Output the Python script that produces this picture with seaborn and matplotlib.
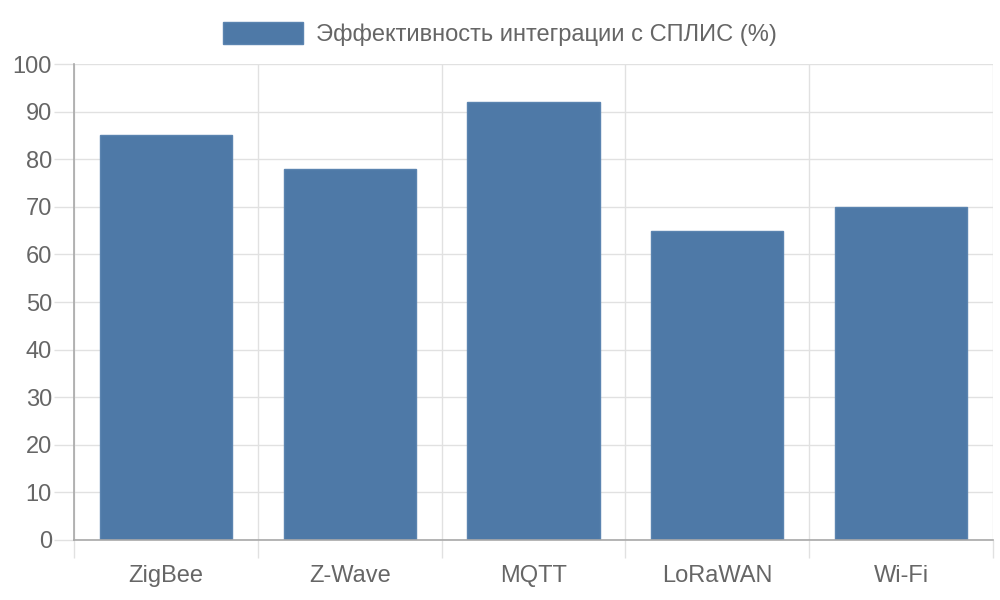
import matplotlib
matplotlib.use("Agg")
import matplotlib.pyplot as plt
import seaborn as sns
import pandas as pd
import numpy as np
from matplotlib.patches import Patch

categories = ["ZigBee", "Z-Wave", "MQTT", "LoRaWAN", "Wi-Fi"]
values = [85, 78, 92, 65, 70]
series_label = "Эффективность интеграции с СПЛИС (%)"
y_ticks = [0, 10, 20, 30, 40, 50, 60, 70, 80, 90, 100]

sns.set_theme(style="white")
plt.rcParams['font.family'] = ['Liberation Sans', 'DejaVu Sans']

df = pd.DataFrame({"cat": categories, "val": values})

fig = plt.figure(figsize=(10, 6), dpi=100)
ax = fig.add_axes([0.074, 0.1, 0.919, 0.7933])

bar_color = "#4e79a7"
sns.barplot(data=df, x="cat", y="val", color=bar_color, width=0.72, ax=ax,
            saturation=1, edgecolor="#5b84b0", linewidth=1, label=series_label)

text_color = "#666666"
grid_color = "#e1e1e1"
axis_color = "#a8a8a8"
fs = 17

ax.set_ylim(0, 100)
ax.set_xlim(-0.5, len(categories) - 0.5)
ax.set_yticks(y_ticks)
ax.set_xticks(range(len(categories)))
ax.set_xticklabels(categories)
ax.set_xticks(np.arange(-0.5, len(categories), 1.0), minor=True)
ax.set_xlabel("")
ax.set_ylabel("")

ax.set_axisbelow(True)
ax.yaxis.grid(True, color=grid_color, linewidth=1)
ax.xaxis.grid(True, which="minor", color=grid_color, linewidth=1)
ax.xaxis.grid(False, which="major")

for s in ["top", "right"]:
    ax.spines[s].set_visible(False)
ax.spines["left"].set_color(axis_color)
ax.spines["bottom"].set_color(axis_color)
ax.spines["left"].set_linewidth(1.2)
ax.spines["bottom"].set_linewidth(1.2)

ax.tick_params(axis="y", which="major", length=14.4, width=1, color=grid_color,
               labelsize=fs, labelcolor=text_color, pad=1.5, left=True)
ax.tick_params(axis="x", which="major", length=0, labelsize=fs, labelcolor=text_color, pad=18)
ax.tick_params(axis="x", which="minor", length=13, width=1, color=grid_color, bottom=True)

leg = ax.get_legend()
if leg is not None:
    leg.remove()
h = [Patch(facecolor=bar_color, edgecolor="#5b84b0")]
fig.legend(h, [series_label], loc="upper center", bbox_to_anchor=(0.5, 0.998),
           frameon=False, fontsize=fs, handlelength=3.4, handleheight=1.0,
           handletextpad=0.55, labelcolor=text_color)

fig.savefig("out.png", dpi=100)
